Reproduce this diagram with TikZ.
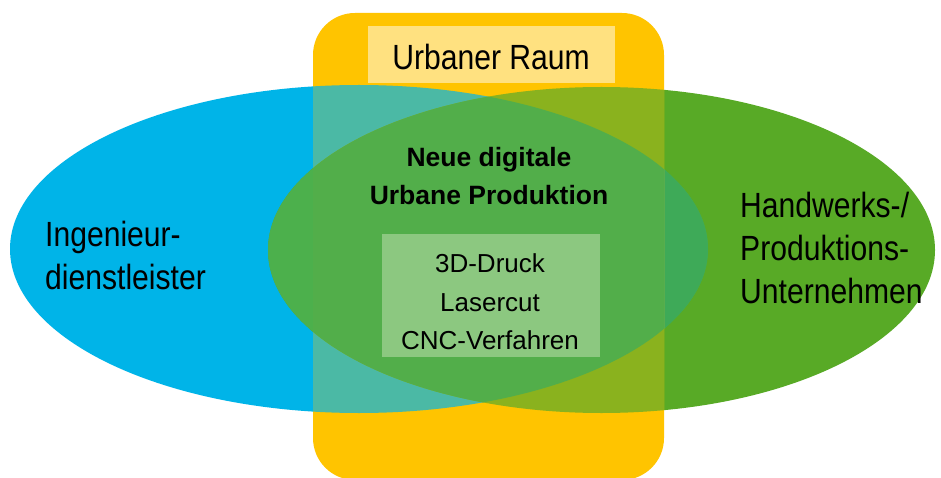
\documentclass[tikz,border=0pt]{standalone}
\usepackage{fontspec}
\setmainfont{Liberation Sans}
\newfontfamily\schmalfont{Liberation Sans}[FakeStretch=0.86]
\usepackage{xcolor}

\definecolor{raumgelb}{RGB}{255,196,0}
\definecolor{boxgelb}{RGB}{255,225,128}
\definecolor{ingblau}{RGB}{0,180,232}
\definecolor{handgruen}{RGB}{88,170,38}
\definecolor{tuerkis}{RGB}{75,185,165}
\definecolor{oliv}{RGB}{138,178,30}
\definecolor{linsel}{RGB}{76,176,76}
\definecolor{linser}{RGB}{62,170,88}
\definecolor{mitte}{RGB}{82,174,74}
\definecolor{boxgruen}{RGB}{140,200,128}

\def\ingellipse{(359,249) ellipse [x radius=349pt, y radius=164pt]}
\def\handellipse{(601.5,250) ellipse [x radius=333.5pt, y radius=163pt]}
\def\raumrect{[rounded corners=42pt] (313,13) rectangle (664,480)}

\begin{document}
\begin{tikzpicture}[x=1pt, y=-1pt,
		grosstext/.style={inner sep=0pt, align=left, font=\schmalfont\fontsize{35}{43}\selectfont},
		fetttext/.style={inner sep=0pt, align=center, font=\fontsize{26.5}{38}\selectfont\bfseries},
		listtext/.style={inner sep=0pt, align=center, font=\fontsize{26}{38.5}\selectfont},
		kasten/.style={inner sep=0pt, draw=none}]
	\clip (0,0) rectangle (941,478);
	\fill[white] (0,0) rectangle (941,478);
	% Ellipsen ausserhalb des Raums
	\fill[ingblau] \ingellipse;
	\fill[handgruen] \handellipse;
	\begin{scope}
		\clip \ingellipse;
		\fill[linsel] \handellipse;
		\clip (664,0) rectangle (941,478);
		\fill[linser] \handellipse;
	\end{scope}
	% Urbaner Raum
	\fill[raumgelb] \raumrect;
	\begin{scope}
		\clip \raumrect;
		\fill[tuerkis] \ingellipse;
		\fill[oliv] \handellipse;
		\clip \ingellipse;
		\fill[mitte] \handellipse;
	\end{scope}
	% Beschriftungen
	\node[kasten, fill=boxgelb, minimum width=247pt, minimum height=57pt] (raumbox) at (491.5,54.5) {};
	\node[grosstext, anchor=base] (raum) at (491,70) {Urbaner Raum};
	\node[grosstext, anchor=west] (ing) at (45,255) {Ingenieur-\\dienstleister};
	\node[grosstext, anchor=west] (hand) at (740,248) {Handwerks-/\\Produktions-\\Unternehmen};
	\node[fetttext] (neu) at (489,176) {Neue digitale\\Urbane Produktion};
	\node[kasten, fill=boxgruen, minimum width=218pt, minimum height=123pt] (verfbox) at (491,295.5) {};
	\node[listtext] (verf) at (490,302) {3D-Druck\\Lasercut\\CNC-Verfahren};
\end{tikzpicture}
\end{document}
